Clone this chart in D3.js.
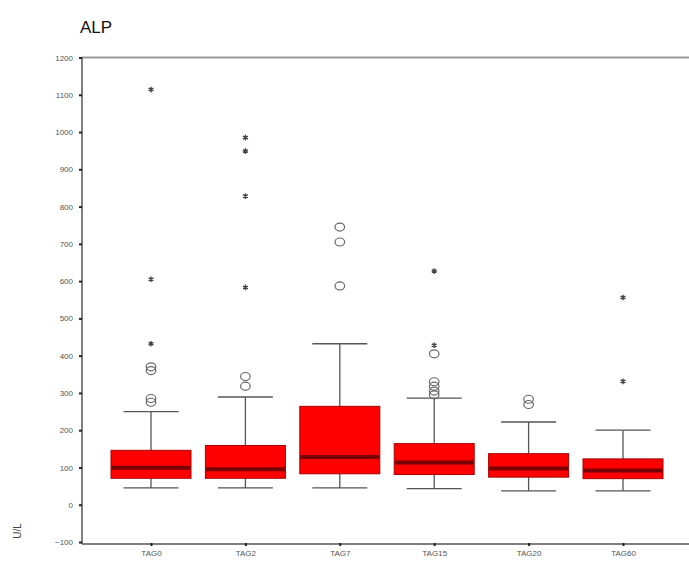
<!DOCTYPE html>
<html>
<head>
<meta charset="utf-8">
<script src="https://d3js.org/d3.v7.min.js"></script>
<style>
  * { margin: 0; padding: 0; }
  body { background: #fff; width: 689px; height: 562px; overflow: hidden; }
  svg { display: block; font-family: Arial, 'Liberation Sans', sans-serif; }
  .tick text { fill: #555; font-size: 8px; }
</style>
</head>
<body>
<div id="chart"></div>
<script>
// data (U/L)
const groups = ["TAG0", "TAG2", "TAG7", "TAG15", "TAG20", "TAG60"];
const whiskerLow  = [45, 45, 45, 43, 37, 37];
const q1          = [71, 71, 83, 81, 74, 70];
const medians     = [99, 95, 128, 113, 97, 92];
const q3          = [146, 159, 264, 164, 137, 123];
const whiskerHigh = [250, 289, 432, 286, 222, 200];
// circles = outliers, stars = extremes
const outliers = [
  [275, 285, 360, 370],
  [318, 344],
  [587, 705, 745],
  [295, 305, 318, 330, 405],
  [269, 283],
  []
];
const extremes = [
  [432, 605, 1114],
  [583, 828, 949, 985],
  [],
  [428, 627],
  [],
  [331, 556]
];
const yTicks = [-100, 0, 100, 200, 300, 400, 500, 600, 700, 800, 900, 1000, 1100, 1200];

const W = 689, H = 562;
const svg = d3.select("#chart").append("svg").attr("width", W).attr("height", H);

const y = d3.scaleLinear().domain([-100, 1200]).range([542, 57.5]);
const x = d3.scalePoint().domain(groups).range([151, 623]);
const boxW = 80, capW = 55;

// title
svg.append("text").attr("x", 80).attr("y", 33)
  .attr("font-size", 17).attr("fill", "#111").text("ALP");

// top frame line
svg.append("line").attr("x1", 82).attr("x2", W)
  .attr("y1", y(1200)).attr("y2", y(1200))
  .attr("stroke", "#9a9a9a").attr("stroke-width", 2);

// y axis
const yAxis = svg.append("g").attr("transform", "translate(82,0)")
  .call(d3.axisLeft(y).tickValues(yTicks).tickSize(3).tickPadding(6).tickFormat(d3.format("d")));
yAxis.select(".domain").attr("stroke", "#555").attr("stroke-width", 1.5)
  .attr("d", `M0,${y(1200)}V${y(-100) + 2}`);
yAxis.selectAll(".tick line").attr("stroke", "#222").attr("stroke-width", 2);

// x axis
const xAxis = svg.append("g").attr("transform", "translate(0,544)")
  .call(d3.axisBottom(x).tickSize(2).tickPadding(6));
xAxis.select(".domain").attr("stroke", "#555").attr("stroke-width", 1.5)
  .attr("d", `M82,0H${W}`);
xAxis.selectAll(".tick line").attr("stroke", "#222").attr("stroke-width", 2).attr("y1", -1);
xAxis.selectAll(".tick text").attr("dy", "0.55em");

// y label
svg.append("text").attr("transform", "translate(21,531) rotate(-90)")
  .attr("text-anchor", "middle").attr("font-size", 10).attr("fill", "#444").text("U/L");

// boxes
const g = svg.append("g");
groups.forEach((name, i) => {
  const cx = x(name);
  const b = g.append("g");
  b.append("line").attr("x1", cx).attr("x2", cx)
    .attr("y1", y(whiskerLow[i])).attr("y2", y(whiskerHigh[i]))
    .attr("stroke", "#555").attr("stroke-width", 1.3);
  [whiskerLow[i], whiskerHigh[i]].forEach(v => {
    b.append("line").attr("x1", cx - capW / 2).attr("x2", cx + capW / 2)
      .attr("y1", y(v)).attr("y2", y(v))
      .attr("stroke", "#555").attr("stroke-width", 1.3);
  });
  b.append("rect").attr("x", cx - boxW / 2).attr("width", boxW)
    .attr("y", y(q3[i])).attr("height", y(q1[i]) - y(q3[i]))
    .attr("fill", "#ff0000").attr("stroke", "#a80000").attr("stroke-width", 1);
  b.append("line").attr("x1", cx - boxW / 2 + 0.5).attr("x2", cx + boxW / 2 - 0.5)
    .attr("y1", y(medians[i])).attr("y2", y(medians[i]))
    .attr("stroke", "#7a0000").attr("stroke-width", 4);

  outliers[i].forEach(v => {
    b.append("ellipse").attr("cx", cx).attr("cy", y(v)).attr("rx", 4.8).attr("ry", 4)
      .attr("fill", "none").attr("stroke", "#666").attr("stroke-width", 1.2);
  });
  extremes[i].forEach(v => {
    b.append("path").attr("transform", `translate(${cx},${y(v)})`)
      .attr("d", d3.symbol(d3.symbolAsterisk, 22)())
      .attr("stroke", "#444").attr("stroke-width", 1.4).attr("fill", "none");
  });
});
</script>
</body>
</html>
